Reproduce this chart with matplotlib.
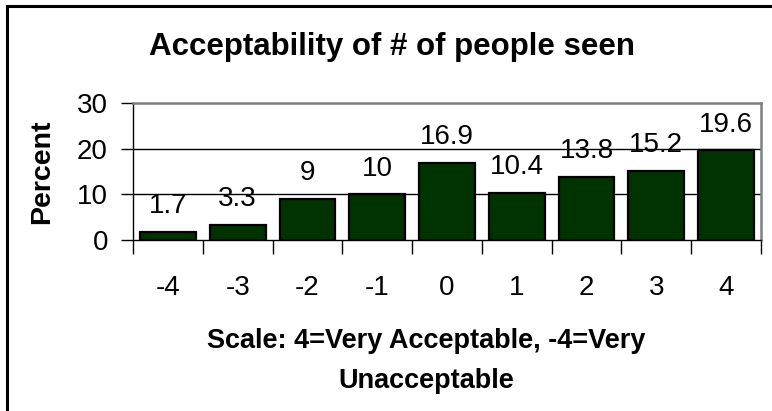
import matplotlib
matplotlib.use("Agg")
import matplotlib.pyplot as plt
import numpy as np
from matplotlib.patches import Rectangle

# data
scale = ['-4', '-3', '-2', '-1', '0', '1', '2', '3', '4']
percent = [1.7, 3.3, 9, 10, 16.9, 10.4, 13.8, 15.2, 19.6]
value_labels = ['1.7', '3.3', '9', '10', '16.9', '10.4', '13.8', '15.2', '19.6']
yticks = [0, 10, 20, 30]

plt.rcParams['font.family'] = ['Liberation Sans', 'DejaVu Sans']

W, H = 772, 411
fig = plt.figure(figsize=(W / 100, H / 100), dpi=100)

# chart border (only top and left visible in the crop)
fig.patches.append(Rectangle((6.5 / W, -0.1), 1.2, 1.1 - 6.5 / H, transform=fig.transFigure,
                             fill=False, edgecolor='black', linewidth=2.2))

ax = fig.add_axes([133 / W, (H - 240) / H, (761 - 133) / W, (240 - 103) / H])

x = np.arange(len(scale))
ax.bar(x, percent, width=0.8, color='#003300', edgecolor='black', linewidth=1.6, zorder=3)

for xi, v, lab in zip(x, percent, value_labels):
    ax.annotate(lab, (xi, v), xytext=(0, 13.5), textcoords='offset points',
                ha='center', va='baseline', fontsize=20)

ax.set_xlim(-0.5, len(scale) - 0.5)
ax.set_ylim(0, 30)
ax.set_yticks(yticks)
ax.set_yticklabels([str(t) for t in yticks], fontsize=20)
ax.tick_params(axis='y', length=9, width=1, pad=9, direction='out')

ax.set_xticks(x)
ax.set_xticklabels(scale, fontsize=20)
ax.set_xticks(np.arange(len(scale) + 1) - 0.5, minor=True)
ax.tick_params(axis='x', which='major', length=0, pad=25)
ax.tick_params(axis='x', which='minor', length=10, width=1, direction='out')

for yv in [10, 20]:
    ax.axhline(yv, color='black', linewidth=1, zorder=1)

for s in ['top', 'right']:
    ax.spines[s].set_color('#808080')
    ax.spines[s].set_linewidth(1.8)
for s in ['left', 'bottom']:
    ax.spines[s].set_color('black')
    ax.spines[s].set_linewidth(1)

fig.text(392 / W, 1 - 55 / H, 'Acceptability of # of people seen', ha='center', va='baseline',
         fontsize=22.5, fontweight='bold')
fig.text(42 / W, 1 - 172 / H, 'Percent', rotation=90, ha='center', va='center',
         fontsize=20.5, fontweight='bold')
fig.text(426 / W, 1 - 348 / H, 'Scale: 4=Very Acceptable, -4=Very', ha='center', va='baseline',
         fontsize=19.5, fontweight='bold')
fig.text(426 / W, 1 - 388 / H, 'Unacceptable', ha='center', va='baseline',
         fontsize=19.5, fontweight='bold')

fig.savefig('out.png', dpi=100)
